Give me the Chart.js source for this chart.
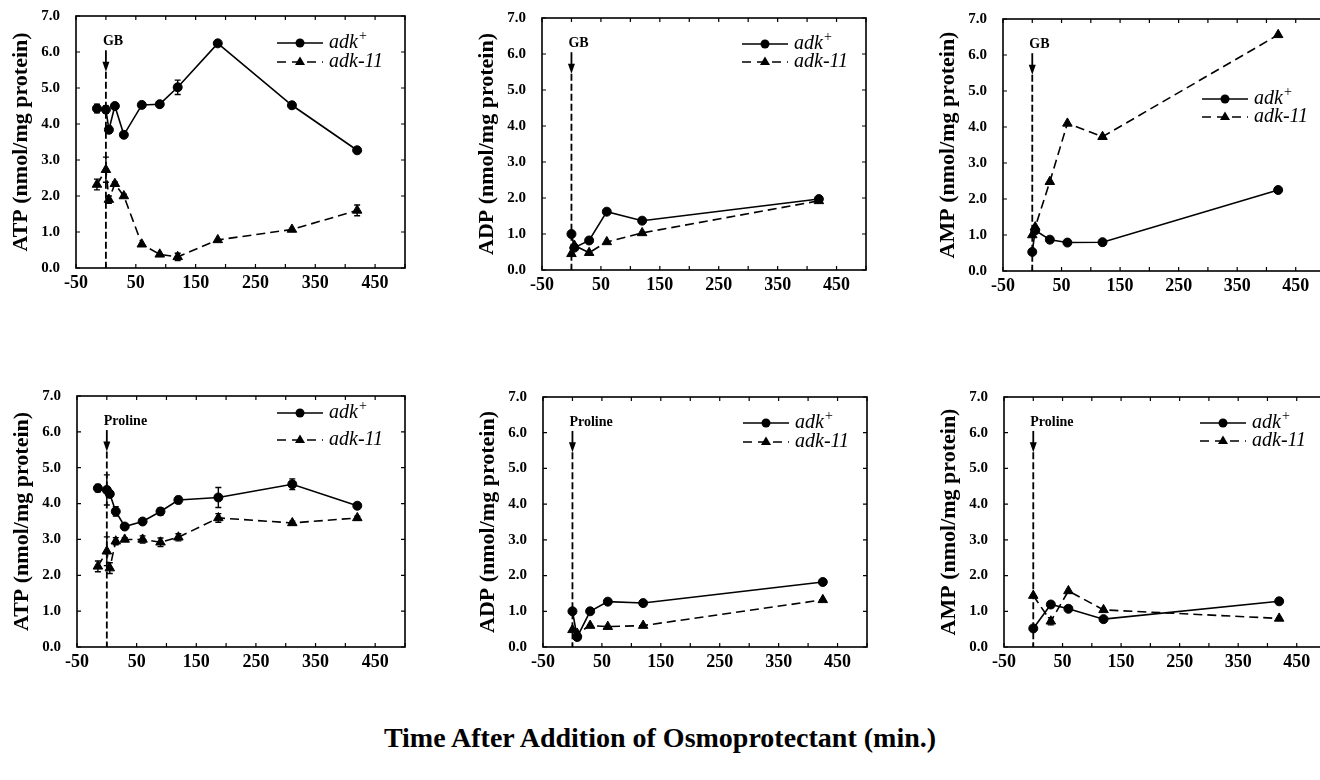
<!DOCTYPE html>
<html>
<head>
<meta charset="utf-8">
<script src="https://cdn.jsdelivr.net/npm/chart.js@4.4.1/dist/chart.umd.min.js"></script>
<style>
  html, body { margin: 0; padding: 0; background: #fff; }
  #page { position: relative; width: 1320px; height: 780px; overflow: hidden; background: #fff; }
  #page canvas { position: absolute; }
  #xtitle {
    position: absolute; left: 0; top: 722px; width: 1320px; text-align: center;
    font: bold 28px "Liberation Serif", "Times New Roman", serif; color: #000;
  }
</style>
</head>
<body>
<div id="page">
  <canvas id="atpGb"></canvas>
  <canvas id="adpGb"></canvas>
  <canvas id="ampGb"></canvas>
  <canvas id="atpPro"></canvas>
  <canvas id="adpPro"></canvas>
  <canvas id="ampPro"></canvas>
  <div id="xtitle">Time After Addition of Osmoprotectant (min.)</div>
</div>
<script>
// ---- data (time in min, nmol/mg protein) ----
const xTickLabels = [-50, 50, 150, 250, 350, 450];
const seriesNames = ['adk', 'adk-11'];

// ATP after glycine betaine
const atpGbTime = [-15, 0, 5, 15, 30, 60, 90, 120, 187, 311, 420];
const atpGbWt = [4.43, 4.40, 3.84, 4.50, 3.70, 4.53, 4.55, 5.02, 6.24, 4.52, 3.27];
const atpGbWtErr = [0.12, 0.1, 0.1, 0, 0, 0, 0, 0.2, 0, 0, 0.05];
const atpGbMut = [2.32, 2.73, 1.90, 2.34, 2.00, 0.66, 0.38, 0.31, 0.78, 1.07, 1.60];
const atpGbMutErr = [0.15, 0.35, 0.1, 0.05, 0.05, 0, 0, 0.1, 0, 0, 0.15];

// ADP after glycine betaine
const adpGbTime = [0, 5, 30, 60, 120, 420];
const adpGbWt = [1.0, 0.62, 0.82, 1.62, 1.37, 1.97];
const adpGbMut = [0.45, 0.68, 0.48, 0.78, 1.03, 1.92];

// AMP after glycine betaine
const ampGbTime = [0, 5, 30, 60, 120, 420];
const ampGbWt = [0.53, 1.13, 0.87, 0.79, 0.80, 2.25];
const ampGbMut = [1.0, 1.22, 2.48, 4.10, 3.73, 6.56];

// ATP after proline
const atpProTime = [-15, 0, 5, 15, 30, 60, 90, 120, 187, 311, 420];
const atpProWt = [4.43, 4.38, 4.27, 3.78, 3.36, 3.50, 3.78, 4.10, 4.17, 4.54, 3.94];
const atpProWtErr = [0.1, 0.42, 0.08, 0.13, 0.05, 0, 0.1, 0.1, 0.28, 0.15, 0];
const atpProMut = [2.25, 2.67, 2.20, 2.95, 3.00, 3.00, 2.92, 3.06, 3.60, 3.46, 3.60];
const atpProMutErr = [0.15, 0.4, 0.15, 0.1, 0.05, 0.1, 0.12, 0.1, 0.12, 0.05, 0.05];

// ADP after proline
const adpProTime = [0, 8, 30, 60, 120, 425];
const adpProWt = [1.0, 0.28, 1.0, 1.27, 1.23, 1.82];
const adpProMut = [0.48, 0.38, 0.60, 0.57, 0.60, 1.32];

// AMP after proline
const ampProTime = [0, 30, 60, 120, 420];
const ampProWt = [0.52, 1.19, 1.07, 0.78, 1.28];
const ampProMut = [1.44, 0.72, 1.57, 1.04, 0.80];
const ampProMutErr = [0, 0.1, 0, 0, 0];

// addition marker: time, top of line, arrow tip, label height
const markerTime = 0;
const markerTop = 6.05;
const markerTip = 5.45;
const markerLabelY = 6.3;

const SERIF = '"Liberation Serif", "Times New Roman", serif';

function points(xs, ys) {
  return xs.map((x, i) => ({ x: x, y: ys[i] }));
}

function overlay(cfg) {
  return {
    id: 'overlay',
    beforeDatasetsDraw(chart) {
      const { ctx, scales: { x, y } } = chart;
      const mx = x.getPixelForValue(markerTime);
      const top = y.getPixelForValue(markerTop);
      const tip = y.getPixelForValue(markerTip);
      const bot = y.getPixelForValue(0);
      ctx.save();
      ctx.strokeStyle = '#000';
      ctx.fillStyle = '#000';
      ctx.lineWidth = 1.8;
      ctx.beginPath();
      ctx.moveTo(mx, top);
      ctx.lineTo(mx, tip - 6);
      ctx.stroke();
      ctx.beginPath();
      ctx.moveTo(mx - 3.5, tip - 10);
      ctx.lineTo(mx + 3.5, tip - 10);
      ctx.lineTo(mx, tip);
      ctx.closePath();
      ctx.fill();
      ctx.setLineDash([7, 3]);
      ctx.beginPath();
      ctx.moveTo(mx, tip);
      ctx.lineTo(mx, bot);
      ctx.stroke();
      ctx.setLineDash([]);
      ctx.font = 'bold 14px ' + SERIF;
      ctx.textAlign = 'left';
      ctx.textBaseline = 'middle';
      ctx.fillText(cfg.marker, mx - 3, y.getPixelForValue(markerLabelY));
      ctx.restore();
    },
    afterDatasetsDraw(chart) {
      const { ctx, chartArea: a, scales: { x, y } } = chart;
      ctx.save();
      ctx.strokeStyle = '#000';
      ctx.fillStyle = '#000';
      // error bars
      ctx.lineWidth = 1.4;
      chart.data.datasets.forEach(ds => {
        if (!ds.errors) return;
        ds.data.forEach((p, i) => {
          const e = ds.errors[i];
          if (!e) return;
          const px = x.getPixelForValue(p.x);
          const y1 = y.getPixelForValue(p.y + e);
          const y2 = y.getPixelForValue(p.y - e);
          ctx.beginPath();
          ctx.moveTo(px, y1); ctx.lineTo(px, y2);
          ctx.moveTo(px - 3, y1); ctx.lineTo(px + 3, y1);
          ctx.moveTo(px - 3, y2); ctx.lineTo(px + 3, y2);
          ctx.stroke();
        });
      });
      // frame with inward ticks
      ctx.lineWidth = 1.6;
      ctx.strokeRect(a.left, a.top, a.width, a.height);
      ctx.lineWidth = 1.2;
      ctx.beginPath();
      x.ticks.forEach(t => {
        const px = x.getPixelForValue(t.value);
        ctx.moveTo(px, a.bottom); ctx.lineTo(px, a.bottom - 4);
        ctx.moveTo(px, a.top); ctx.lineTo(px, a.top + 4);
      });
      y.ticks.forEach(t => {
        const py = y.getPixelForValue(t.value);
        ctx.moveTo(a.left, py); ctx.lineTo(a.left + 4, py);
        ctx.moveTo(a.right, py); ctx.lineTo(a.right - 4, py);
      });
      ctx.stroke();
      // legend
      const lx = a.left + cfg.legendX;
      cfg.legendRows.forEach((off, i) => {
        const ly = a.top + off;
        ctx.lineWidth = 1.5;
        ctx.setLineDash(i === 0 ? [] : [9, 6]);
        ctx.beginPath();
        ctx.moveTo(lx, ly); ctx.lineTo(lx + 46, ly);
        ctx.stroke();
        ctx.setLineDash([]);
        ctx.beginPath();
        if (i === 0) {
          ctx.arc(lx + 23, ly, 4.5, 0, Math.PI * 2);
        } else {
          ctx.moveTo(lx + 23, ly - 5.5);
          ctx.lineTo(lx + 28, ly + 3);
          ctx.lineTo(lx + 18, ly + 3);
          ctx.closePath();
        }
        ctx.fill();
        ctx.font = 'italic 20px ' + SERIF;
        ctx.textAlign = 'left';
        ctx.textBaseline = 'middle';
        ctx.fillText(seriesNames[i], lx + 52, ly);
        if (i === 0) {
          const w = ctx.measureText(seriesNames[i]).width;
          ctx.font = '14px ' + SERIF;
          ctx.fillText('+', lx + 53 + w, ly - 7);
        }
      });
      ctx.restore();
    }
  };
}

function panel(cfg) {
  const canvas = document.getElementById(cfg.id);
  const padTop = 18, padRight = 10, yW = 76, xH = 34;
  canvas.width = cfg.w + yW + padRight;
  canvas.height = cfg.h + padTop + xH;
  canvas.style.left = (cfg.left - yW) + 'px';
  canvas.style.top = (cfg.top - padTop) + 'px';

  const wt = {
    data: points(cfg.time, cfg.wt),
    errors: cfg.wtErr,
    borderColor: '#000', backgroundColor: '#000', borderWidth: 1.6,
    pointStyle: 'circle', pointRadius: 4.5, pointBorderWidth: 1,
    pointBackgroundColor: '#000', pointBorderColor: '#000'
  };
  const mut = {
    data: points(cfg.time, cfg.mut),
    errors: cfg.mutErr,
    borderColor: '#000', backgroundColor: '#000', borderWidth: 1.6,
    borderDash: [9, 5],
    pointStyle: 'triangle', pointRadius: 5.5, pointBorderWidth: 1,
    pointBackgroundColor: '#000', pointBorderColor: '#000'
  };

  return new Chart(canvas, {
    type: 'line',
    data: { datasets: [wt, mut] },
    options: {
      responsive: false,
      animation: false,
      layout: { padding: { top: padTop, right: padRight, left: 0, bottom: 0 } },
      plugins: { legend: { display: false }, tooltip: { enabled: false } },
      scales: {
        x: {
          type: 'linear', min: -50, max: 500,
          afterFit: s => { s.height = xH; },
          grid: { display: false },
          border: { display: false },
          ticks: {
            stepSize: 50, autoSkip: false, maxRotation: 0, padding: -3,
            color: '#000', font: { family: SERIF, size: 18, weight: 'bold' },
            callback: v => (xTickLabels.includes(v) ? String(v) : '')
          }
        },
        y: {
          min: 0, max: 7,
          afterFit: s => { s.width = yW; },
          grid: { display: false },
          border: { display: false },
          ticks: {
            stepSize: 1, padding: 8, color: '#000',
            font: { family: SERIF, size: 15, weight: 'bold' },
            callback: v => v.toFixed(1)
          },
          title: {
            display: true, text: cfg.yTitle, color: '#000',
            font: { family: SERIF, size: 22, weight: 'bold', lineHeight: 1 },
            padding: { top: 10, bottom: 0 }
          }
        }
      }
    },
    plugins: [overlay(cfg)]
  });
}

panel({ id: 'atpGb', left: 76, top: 16, w: 329, h: 252, yTitle: 'ATP (nmol/mg protein)', marker: 'GB',
  time: atpGbTime, wt: atpGbWt, wtErr: atpGbWtErr, mut: atpGbMut, mutErr: atpGbMutErr,
  legendX: 201, legendRows: [27, 46] });
panel({ id: 'adpGb', left: 542, top: 18, w: 324, h: 252, yTitle: 'ADP (nmol/mg protein)', marker: 'GB',
  time: adpGbTime, wt: adpGbWt, mut: adpGbMut,
  legendX: 200, legendRows: [26, 44] });
panel({ id: 'ampGb', left: 1003, top: 19, w: 322, h: 252, yTitle: 'AMP (nmol/mg protein)', marker: 'GB',
  time: ampGbTime, wt: ampGbWt, mut: ampGbMut,
  legendX: 199, legendRows: [80, 98] });
panel({ id: 'atpPro', left: 77, top: 396, w: 328, h: 251, yTitle: 'ATP (nmol/mg protein)', marker: 'Proline',
  time: atpProTime, wt: atpProWt, wtErr: atpProWtErr, mut: atpProMut, mutErr: atpProMutErr,
  legendX: 200, legendRows: [17, 44] });
panel({ id: 'adpPro', left: 543, top: 397, w: 324, h: 250, yTitle: 'ADP (nmol/mg protein)', marker: 'Proline',
  time: adpProTime, wt: adpProWt, mut: adpProMut,
  legendX: 200, legendRows: [26, 45] });
panel({ id: 'ampPro', left: 1004, top: 397, w: 322, h: 250, yTitle: 'AMP (nmol/mg protein)', marker: 'Proline',
  time: ampProTime, wt: ampProWt, mut: ampProMut, mutErr: ampProMutErr,
  legendX: 196, legendRows: [26, 44] });
</script>
</body>
</html>
